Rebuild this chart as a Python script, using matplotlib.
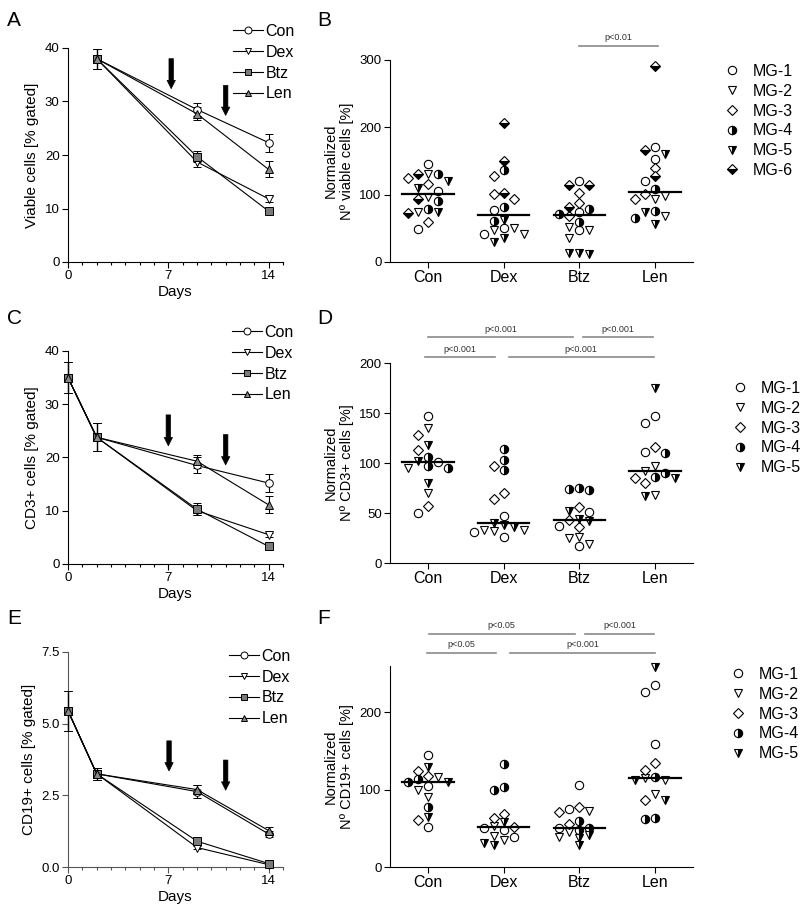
import numpy as np
import matplotlib
matplotlib.use('Agg')
import matplotlib.pyplot as plt
from matplotlib.lines import Line2D

plt.rcParams['font.family'] = ['Liberation Sans', 'DejaVu Sans']

# ---- time course data (mean, error) ----
treatments = ['Con', 'Dex', 'Btz', 'Len']

days_A = [2, 9, 14]
A_mean = {'Con': [38, 28.5, 22.3], 'Dex': [38, 18.7, 11.8],
          'Btz': [38, 19.7, 9.5], 'Len': [38, 27.7, 17.3]}
A_err = {'Con': [1.9, 1.3, 1.7], 'Dex': [1.9, 1.0, 0.5],
         'Btz': [1.9, 1.0, 0.4], 'Len': [1.9, 1.2, 1.5]}

days_C = [0, 2, 9, 14]
C_mean = {'Con': [35, 23.8, 18.5, 15.2], 'Dex': [35, 23.8, 10.0, 5.5],
          'Btz': [35, 23.8, 10.3, 3.3], 'Len': [35, 23.8, 19.3, 11.1]}
C_err = {'Con': [2.9, 2.6, 1.5, 1.7], 'Dex': [2.9, 2.6, 0.8, 0.4],
         'Btz': [2.9, 2.6, 1.1, 0.4], 'Len': [2.9, 2.6, 1.2, 1.6]}

days_E = [0, 2, 9, 14]
E_mean = {'Con': [5.45, 3.25, 2.63, 1.15], 'Dex': [5.45, 3.25, 0.68, 0.08],
          'Btz': [5.45, 3.25, 0.9, 0.12], 'Len': [5.45, 3.25, 2.7, 1.27]}
E_err = {'Con': [0.7, 0.22, 0.22, 0.12], 'Dex': [0.7, 0.22, 0.06, 0.03],
         'Btz': [0.7, 0.22, 0.08, 0.04], 'Len': [0.7, 0.22, 0.15, 0.13]}

# treatment days (arrows)
arrow_days = [7.2, 11.0]

# ---- normalized counts, 3 values per treatment (Con, Dex, Btz, Len) ----
B_MG1 = [145, 105, 49, 77, 50, 42, 121, 74, 47, 171, 153, 120]
B_MG2 = [131, 97, 75, 50, 47, 41, 47, 52, 36, 98, 94, 69]
B_MG3 = [125, 116, 60, 128, 101, 93, 103, 88, 69, 139, 94, 101]
B_MG4 = [130, 90, 79, 137, 82, 61, 78, 72, 59, 108, 76, 65]
B_MG5 = [110, 120, 74, 63, 36, 29, 14, 12, 14, 160, 74, 56]
B_MG6 = [131, 93, 73, 206, 150, 103, 114, 115, 82, 291, 166, 127]

D_MG1 = [147, 101, 50, 47, 26, 31, 51, 37, 17, 147, 140, 111]
D_MG2 = [135, 95, 70, 33, 33, 32, 25, 19, 26, 97, 92, 68]
D_MG3 = [128, 113, 57, 97, 70, 64, 56, 43, 36, 116, 80, 85]
D_MG4 = [106, 97, 95, 114, 103, 93, 74, 73, 75, 110, 90, 86]
D_MG5 = [118, 102, 80, 40, 38, 36, 52, 42, 44, 175, 85, 67]

F_MG1 = [145, 105, 52, 50, 48, 39, 106, 75, 50, 235, 227, 159]
F_MG2 = [117, 99, 90, 53, 40, 35, 73, 45, 39, 115, 113, 95]
F_MG3 = [124, 118, 61, 68, 64, 52, 78, 71, 55, 134, 126, 87]
F_MG4 = [114, 110, 77, 133, 103, 100, 59, 51, 48, 117, 62, 64]
F_MG5 = [130, 110, 65, 58, 28, 31, 38, 41, 28, 259, 112, 87]

# significance bars: (from, to, height, label)
B_sig = [(2.0, 3.04, 321, 'p<0.01')]
D_sig = [(0.0, 1.92, 226, 'p<0.001'), (2.05, 2.97, 226, 'p<0.001'),
         (-0.04, 0.88, 206, 'p<0.001'), (1.07, 2.98, 206, 'p<0.001')]
F_sig = [(0.01, 1.94, 302, 'p<0.05'), (2.07, 2.99, 302, 'p<0.001'),
         (-0.01, 0.90, 277, 'p<0.05'), (1.09, 3.00, 277, 'p<0.001')]

# ---- styles ----
line_marker = {'Con': 'o', 'Dex': 'v', 'Btz': 's', 'Len': '^'}
line_face = {'Con': 'white', 'Dex': 'white', 'Btz': '#7a7a7a', 'Len': '#888888'}

mg_style = [
    dict(marker='o', mfc='white', ms=6),
    dict(marker='v', mfc='white', ms=6),
    dict(marker='D', mfc='white', ms=5),
    dict(marker='o', mfc='k', fillstyle='right', markerfacecoloralt='white', ms=6),
    dict(marker='v', mfc='k', fillstyle='right', markerfacecoloralt='white', ms=6),
    dict(marker='D', mfc='k', fillstyle='bottom', markerfacecoloralt='white', ms=5),
]

W, H = 800, 909
fig = plt.figure(figsize=(W / 100, H / 100), dpi=100)


def px_axes(l, t, r, b):
    return fig.add_axes([l / W, 1 - b / H, (r - l) / W, (b - t) / H])


def style_axes(ax, color='k'):
    for s in ['top', 'right']:
        ax.spines[s].set_visible(False)
    for s in ['left', 'bottom']:
        ax.spines[s].set_linewidth(0.8)
        ax.spines[s].set_color(color)
    ax.tick_params(direction='out', length=4, width=0.8, labelsize=9.5, color=color,
                   pad=2)
    ax.tick_params(which='minor', direction='out', length=2.5, width=0.8, color=color)


def line_panel(ax, days, mean, err, ylim, yticks, ylabel, arrows, leg_xy, color='k'):
    style_axes(ax, color)
    for t in treatments:
        ax.errorbar(days, mean[t], yerr=err[t], color='k', lw=0.8,
                    marker=line_marker[t], mfc=line_face[t], mec='k', ms=5.5,
                    mew=0.7, capsize=3, elinewidth=0.8, capthick=0.8, clip_on=False,
                    zorder=3)
    for x, y0, y1 in arrows:
        ax.annotate('', xy=(x, y1), xytext=(x, y0),
                    arrowprops=dict(facecolor='k', edgecolor='k', width=3.2,
                                    headwidth=6, headlength=6, lw=0.5))
    ax.set_xlim(0, 15)
    ax.set_ylim(*ylim)
    ax.set_xticks([0, 7, 14])
    ax.set_xticks(range(0, 16), minor=True)
    ax.set_yticks(yticks)
    ax.set_xlabel('Days', fontsize=11, labelpad=2)
    ax.set_ylabel(ylabel, fontsize=11, labelpad=4)
    handles = [Line2D([], [], color='k', lw=0.8, marker=line_marker[t],
                      mfc=line_face[t], mec='k', ms=5, mew=0.7) for t in treatments]
    fig.legend(handles, treatments, loc='upper left', bbox_to_anchor=leg_xy,
               frameon=False, fontsize=11.5, handlelength=1.9, handletextpad=0.15,
               labelspacing=0.36, borderpad=0, borderaxespad=0)


def swarm(vals, center, thr, step):
    xs = np.zeros(len(vals))
    placed = []
    for i in np.argsort(-np.asarray(vals), kind='stable'):
        v = vals[i]
        for s in [0, -1, 1, -2, 2, -3, 3, -4, 4]:
            if all(abs(v - pv) >= thr for ps, pv in placed if ps == s):
                break
        placed.append((s, v))
        xs[i] = center + s * step
    return xs


def scatter_panel(ax, mgs, ylim, yticks, ylabel, sig, leg_xy):
    style_axes(ax)
    ax.set_xlim(-0.5, 3.5)
    ax.set_ylim(*ylim)
    bb = ax.get_position()
    thr = 7.5 * (ylim[1] - ylim[0]) / (bb.height * H)
    step = 10 * 4 / (bb.width * W)
    # gather by treatment for swarm layout
    for g in range(4):
        vals, who = [], []
        for k, m in enumerate(mgs):
            for v in m[g * 3:g * 3 + 3]:
                vals.append(v)
                who.append(k)
        xs = swarm(vals, g, thr, step)
        for x, v, k in zip(xs, vals, who):
            ax.plot([x], [v], ls='none', mec='k', mew=0.8, clip_on=False,
                    zorder=3, **mg_style[k])
        med = np.median(vals)
        ax.plot([g - 0.34, g + 0.34], [med, med], color='k', lw=1.6, zorder=4)
    ax.set_xticks(range(4))
    ax.set_xticklabels(treatments, fontsize=11.5)
    ax.set_yticks(yticks)
    ax.set_ylabel(ylabel, fontsize=10.5, labelpad=4, linespacing=1.15)
    for x0, x1, y, lab in sig:
        ax.plot([x0, x1], [y, y], color='#8a8a8a', lw=1.2, clip_on=False)
        ax.annotate(lab, xy=((x0 + x1) / 2, y), xytext=(0, 2.5),
                    textcoords='offset points', ha='center', va='bottom',
                    fontsize=6.5, color='#333333', annotation_clip=False)
    labels = ['MG-%d' % (k + 1) for k in range(len(mgs))]
    handles = [Line2D([], [], ls='none', mec='k', mew=0.8, **mg_style[k])
               for k in range(len(mgs))]
    fig.legend(handles, labels, loc='upper left', bbox_to_anchor=leg_xy,
               frameon=False, fontsize=11.5, handlelength=1.0, handletextpad=0.8,
               labelspacing=0.3, borderpad=0, borderaxespad=0)


# A
axA = px_axes(68, 48, 283, 262)
line_panel(axA, days_A, A_mean, A_err, (0, 40), [0, 10, 20, 30, 40],
           'Viable cells [% gated]',
           [(arrow_days[0], 38.0, 32.4), (arrow_days[1], 33.0, 27.4)],
           (233 / W, 1 - 24 / H))
# B
axB = px_axes(390, 60, 693, 262)
scatter_panel(axB, [B_MG1, B_MG2, B_MG3, B_MG4, B_MG5, B_MG6], (0, 300),
              [0, 100, 200, 300], 'Normalized\nNº viable cells [%]', B_sig,
              (724 / W, 1 - 64 / H))
# C
axC = px_axes(68, 351, 283, 564)
line_panel(axC, days_C, C_mean, C_err, (0, 40), [0, 10, 20, 30, 40],
           'CD3+ cells [% gated]',
           [(7.0, 28.0, 22.2), (arrow_days[1], 24.3, 18.6)],
           (232 / W, 1 - 325 / H))
# D
axD = px_axes(390, 363, 693, 563)
scatter_panel(axD, [D_MG1, D_MG2, D_MG3, D_MG4, D_MG5], (0, 200),
              [0, 50, 100, 150, 200], 'Normalized\nNº CD3+ cells [%]', D_sig,
              (732 / W, 1 - 381 / H))
# E
axE = px_axes(68, 652, 283, 867)
line_panel(axE, days_E, E_mean, E_err, (0, 7.5), [0, 2.5, 5.0, 7.5],
           'CD19+ cells [% gated]',
           [(7.05, 4.4, 3.35), (arrow_days[1], 3.73, 2.68)],
           (229 / W, 1 - 649 / H), color='#555555')
axE.yaxis.set_major_formatter(matplotlib.ticker.FormatStrFormatter('%.1f'))
# F
axF = px_axes(390, 666, 693, 867)
scatter_panel(axF, [F_MG1, F_MG2, F_MG3, F_MG4, F_MG5], (0, 260),
              [0, 100, 200], 'Normalized\nNº CD19+ cells [%]', F_sig,
              (730 / W, 1 - 667 / H))

for lab, x, y in [('A', 7, 21), ('B', 317, 21), ('C', 7, 319),
                  ('D', 317, 319), ('E', 7, 618), ('F', 317, 618)]:
    fig.text(x / W, 1 - y / H, lab, fontsize=15, ha='left', va='center')

fig.savefig('out.png', dpi=100)
